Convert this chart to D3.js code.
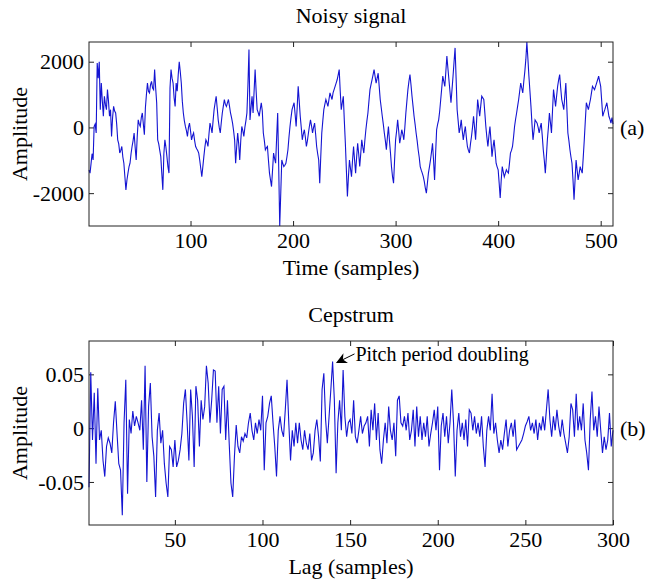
<!DOCTYPE html>
<html>
<head>
<meta charset="utf-8">
<script src="https://cdn.jsdelivr.net/npm/d3@7"></script>
<style>
  body { margin: 0; background: #fff; }
  svg text { font-family: "Liberation Serif", "Times New Roman", serif; fill: #000; }
</style>
</head>
<body>
<div id="chart"></div>
<script>
// noisy signal, one value per sample (1..512)
const signal = [
  -1300,-1390,-1100,-800,-990,30,100,-170,1960,1500,
  2000,540,1350,800,340,950,700,540,1150,800,
  340,540,-275,300,640,500,440,100,-377,-500,
  -780,-700,-580,-900,-1090,-1500,-1900,-1600,-1390,-1200,
  -1090,-800,-580,-400,-170,-600,-990,-300,230,100,
  30,300,440,100,-220,600,1000,1350,1100,1050,
  1300,1400,1200,1150,1760,1200,750,-377,-500,-700,
  -890,-1400,-1900,-800,-377,-600,-890,-1200,-1390,1200,
  1760,1500,1350,900,640,1350,1100,1600,2000,1700,
  1350,800,440,200,30,-100,-275,0,130,-100,
  -377,-250,-170,-400,-580,-650,-700,-780,-1000,-1250,
  -1500,-1200,-890,-600,-377,-450,-580,-200,130,0,
  -170,200,540,750,950,600,230,0,-170,150,
  440,650,850,700,640,750,850,650,440,300,
  130,-100,-377,-1090,-600,-170,-500,-990,-400,30,
  -100,-275,0,200,440,1300,2370,230,600,950,
  440,1100,1760,1100,540,450,340,550,750,500,
  -170,-400,-680,-620,-580,-1000,-1390,-1600,-1800,-1300,
  -780,-950,-1090,-300,440,-1200,-3000,-2000,-990,-1100,
  -1190,-1150,-1090,-900,-680,-300,30,300,540,650,
  750,400,30,600,1250,800,340,0,-377,-200,
  -70,-300,-580,-400,-170,50,230,50,-170,0,
  130,-200,-580,-800,-990,-1700,-900,-170,200,540,
  700,850,750,640,850,
  1050,950,850,1050,1150,1250,1350,1450,1600,1760,
  1100,540,750,950,200,-480,-1300,-2100,-1500,-990,
  -1250,-1500,-1000,-580,-1000,-1390,-900,-480,-800,-1190,
  -800,-377,-600,-780,-400,-70,200,440,800,1150,
  1300,1450,1600,1760,1550,1350,1500,1650,1250,850,
  600,340,100,-170,-400,-680,-300,30,-400,-780,
  -1200,-1500,-1700,-1000,-377,-100,230,-100,-480,-300,
  -70,-200,-377,0,440,800,1150,1400,1610,1300,
  950,650,340,100,-170,-400,-680,-900,-1190,-1300,
  -1390,-1500,-1650,-1850,-2000,-1700,-1390,-1200,-990,-750,
  -480,-1000,-1600,-800,-70,100,230,500,850,1200,
  1560,1400,1250,1700,2170,1800,1450,1100,750,1150,
  1560,2000,2420,1500,540,200,-170,0,230,-100,
  -377,-150,30,-300,-580,-700,-780,-500,-275,0,
  340,0,-377,200,850,600,340,650,950,900,
  850,450,30,-300,-580,-250,30,-400,-890,-600,
  -377,-700,-1090,-1200,-1290,-1700,-2150,-1600,-1190,-1350,
  -1500,-1400,-1290,-1350,-1390,-1100,-780,-700,-580,-300,
  30,250,440,650,850,1100,1350,1200,1050,1400,
  1700,2070,2600,2100,1560,1100,640,100,-377,-100,
  230,180,130,0,-170,0,130,-250,-680,-1000,
  -1390,-900,-377,0,440,150,-170,500,1150,900,
  640,950,1250,1450,1610,1200,850,700,540,950,
  1350,600,-170,-400,-680,-900,-1090,-1600,-2200,-1600,
  -990,-1300,-1600,-1400,-1190,-1300,-1390,-900,-377,200,
  750,650,540,700,850,1050,1250,1200,1150,1250,
  1350,1450,1560,1400,1250,800,340,450,540,650,
  750,550,340,250,130,300,100
]

// cepstrum, one value per lag (1..300)
const cepstrum = [
  -0.055,0.052,-0.011,0.033,-0.033,0.037,-0.011,-0.002,-0.030,-0.045,
  -0.017,-0.009,-0.014,-0.023,0.005,0.025,-0.005,-0.033,-0.039,-0.081,
  0.005,0.045,-0.061,0.008,-0.005,0.016,0.002,0.011,0.005,-0.002,
  0.026,-0.020,0.058,-0.050,0.020,0.042,-0.008,-0.026,-0.064,-0.002,
  0.014,-0.014,-0.002,-0.033,-0.051,-0.064,-0.017,-0.020,-0.036,-0.011,
  -0.036,-0.030,-0.020,-0.005,0.023,0.036,0.005,-0.030,0.036,0.011,
  -0.036,0.039,0.026,-0.017,0.026,0.008,0.020,0.058,0.042,0.005,
  0.026,0.054,0.053,0.005,0.039,-0.005,0.036,0.039,-0.011,0.026,
  -0.014,-0.051,-0.064,-0.026,0.003,-0.017,-0.023,-0.008,-0.012,-0.005,
  -0.009,0.005,0.014,-0.002,-0.011,0.005,-0.005,0.008,-0.002,0.030,
  -0.039,0.005,0.011,0.023,0.030,0.005,-0.017,-0.045,-0.002,0.011,
  -0.002,-0.008,0.017,0.045,0.005,-0.030,-0.002,-0.017,0.005,-0.014,
  0.005,-0.011,-0.020,-0.002,-0.014,-0.020,-0.005,-0.030,-0.023,-0.002,
  0.008,-0.008,-0.031,0.036,0.051,0.008,-0.014,0.011,0.036,0.062,
  0.026,-0.042,0.005,0.026,-0.002,0.054,0.011,-0.008,0.005,0.008,
  -0.005,0.026,-0.008,-0.014,-0.002,0.011,-0.005,0.002,0.005,0.011,
  -0.017,0.017,-0.002,0.023,-0.011,0.014,-0.020,-0.033,-0.011,0.005,
  -0.014,0.020,-0.002,-0.011,0.005,-0.026,0.026,0.030,0.005,0.002,
  0.011,-0.002,0.014,-0.011,-0.002,0.017,-0.017,0.020,-0.008,0.011,
  -0.011,0.005,-0.008,0.011,-0.017,-0.005,0.005,0.017,-0.002,0.020,
  -0.039,0.002,0.014,-0.008,0.011,-0.014,0.005,0.036,0.005,-0.045,
  -0.002,0.014,-0.008,0.005,-0.011,0.008,-0.017,0.017,0.014,-0.002,
  0.011,-0.005,0.005,-0.008,0.011,-0.017,-0.036,-0.002,0.011,-0.002,
  0.032,-0.005,0.005,-0.011,-0.023,-0.011,-0.020,-0.005,0.008,-0.017,
  -0.002,0.005,-0.008,0.008,-0.020,-0.017,-0.014,-0.011,-0.005,0.002,
  0.006,0.011,-0.002,0.005,-0.005,0.008,-0.011,0.005,-0.002,0.011,
  -0.002,0.017,0.036,0.008,-0.008,0.011,-0.002,0.017,0.002,-0.008,
  0.008,-0.005,-0.014,-0.023,-0.008,0.023,0.017,-0.008,0.032,-0.002,
  0.011,-0.002,0.023,-0.011,-0.023,-0.039,0.008,0.034,-0.002,0.011,
  -0.008,0.020,-0.002,-0.023,-0.008,-0.020,-0.011,0.014,-0.017,-0.002
]

const signalXTicks = [100, 200, 300, 400, 500]
const signalYTicks = [-2000, 0, 2000]
const cepXTicks = [50, 100, 150, 200, 250, 300]
const cepYTicks = [-0.05, 0, 0.05]

const width = 651
const height = 580
const lineColor = '#1414d2'
const fontSize = 22

const svg = d3.select('#chart').append('svg')
  .attr('width', width)
  .attr('height', height)

// plain hyphen for negatives, like the original figure
const fmt = d => String(d)

function drawPanel(opts) {
  const {top, bottom, left, right} = opts.box
  const x = d3.scaleLinear().domain(opts.xDomain).range([left, right])
  const y = d3.scaleLinear().domain(opts.yDomain).range([bottom, top])

  const g = svg.append('g')

  // ticks on all four sides, pointing inward
  g.append('g')
    .attr('transform', 'translate(0,' + bottom + ')')
    .call(d3.axisBottom(x).tickValues(opts.xTicks).tickFormat(fmt).tickSize(-5).tickPadding(6))
  g.append('g')
    .attr('transform', 'translate(0,' + top + ')')
    .call(d3.axisTop(x).tickValues(opts.xTicks).tickFormat('').tickSize(-5))
  g.append('g')
    .attr('transform', 'translate(' + left + ',0)')
    .call(d3.axisLeft(y).tickValues(opts.yTicks).tickFormat(fmt).tickSize(-5).tickPadding(5))
  g.append('g')
    .attr('transform', 'translate(' + right + ',0)')
    .call(d3.axisRight(y).tickValues(opts.yTicks).tickFormat('').tickSize(-5))

  g.selectAll('.domain').remove()
  g.selectAll('.tick line').attr('stroke', '#222')
  g.selectAll('.tick text').attr('font-size', fontSize)
    .style('font-family', '"Liberation Serif", "Times New Roman", serif')

  const line = d3.line()
    .x((d, i) => x(i + opts.xStart))
    .y(d => y(d))

  g.append('path')
    .datum(opts.values)
    .attr('fill', 'none')
    .attr('stroke', lineColor)
    .attr('stroke-width', 1.1)
    .attr('d', line)

  g.append('rect')
    .attr('x', left)
    .attr('y', top)
    .attr('width', right - left)
    .attr('height', bottom - top)
    .attr('fill', 'none')
    .attr('stroke', '#222')

  g.append('text')
    .attr('x', (left + right) / 2)
    .attr('y', top - 19)
    .attr('text-anchor', 'middle')
    .attr('font-size', fontSize)
    .text(opts.title)

  g.append('text')
    .attr('x', (left + right) / 2)
    .attr('y', bottom + 49)
    .attr('text-anchor', 'middle')
    .attr('font-size', fontSize)
    .text(opts.xLabel)

  g.append('text')
    .attr('transform', 'translate(27,' + ((top + bottom) / 2) + ') rotate(-90)')
    .attr('text-anchor', 'middle')
    .attr('font-size', fontSize)
    .text('Amplitude')

  g.append('text')
    .attr('x', right + 7)
    .attr('y', y(0))
    .attr('dy', '0.35em')
    .attr('font-size', fontSize)
    .text(opts.tag)

  return {x, y, g}
}

drawPanel({
  box: {top: 42, bottom: 226, left: 89, right: 613},
  xDomain: [1, 512],
  yDomain: [-3000, 2600],
  xStart: 1,
  xTicks: signalXTicks,
  yTicks: signalYTicks,
  values: signal,
  title: 'Noisy signal',
  xLabel: 'Time (samples)',
  tag: '(a)'
})

const cep = drawPanel({
  box: {top: 341, bottom: 525, left: 89, right: 613},
  xDomain: [1, 300],
  yDomain: [-0.09, 0.081],
  xStart: 1,
  xTicks: cepXTicks,
  yTicks: cepYTicks,
  values: cepstrum,
  title: 'Cepstrum',
  xLabel: 'Lag (samples)',
  tag: '(b)'
})

// annotation pointing at the doubled pitch period peak
svg.append('defs').append('marker')
  .attr('id', 'head')
  .attr('viewBox', '0 0 10 10')
  .attr('refX', 9)
  .attr('refY', 5)
  .attr('markerWidth', 11)
  .attr('markerHeight', 11)
  .attr('markerUnits', 'userSpaceOnUse')
  .attr('orient', 'auto')
  .append('path')
  .attr('d', 'M0,0 L10,5 L0,10 L3,5 z')
  .attr('fill', '#000')

cep.g.append('line')
  .attr('x1', cep.x(152.5))
  .attr('y1', cep.y(0.069))
  .attr('x2', cep.x(142.5))
  .attr('y2', cep.y(0.061))
  .attr('stroke', '#000')
  .attr('stroke-width', 1)
  .attr('marker-end', 'url(#head)')

cep.g.append('text')
  .attr('x', cep.x(153))
  .attr('y', cep.y(0.069))
  .attr('dy', '0.35em')
  .attr('font-size', 20)
  .text('Pitch period doubling')
</script>
</body>
</html>
